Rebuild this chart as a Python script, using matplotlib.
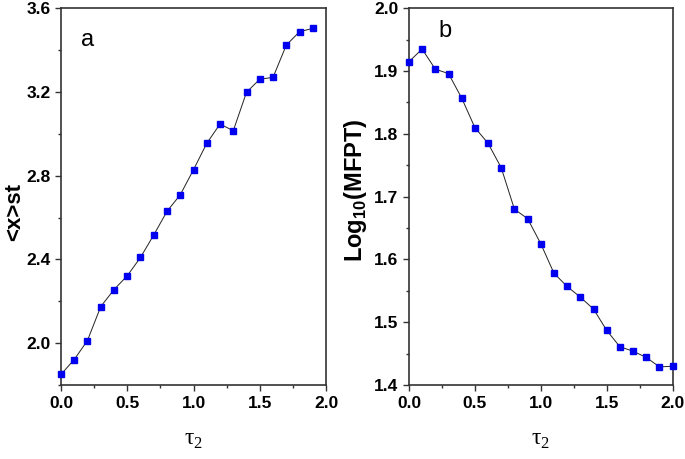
import numpy as np
import matplotlib
matplotlib.use("Agg")
import matplotlib.pyplot as plt
from matplotlib.ticker import MultipleLocator

plt.rcParams['font.family'] = ['Liberation Sans', 'DejaVu Sans']
plt.rcParams['mathtext.fontset'] = 'custom'
plt.rcParams['mathtext.rm'] = 'Liberation Serif'
plt.rcParams['mathtext.bf'] = 'Liberation Sans:bold'

# panel a: <x>st vs tau2
tau_a = [0.0, 0.1, 0.2, 0.3, 0.4, 0.5, 0.6, 0.7, 0.8, 0.9,
         1.0, 1.1, 1.2, 1.3, 1.4, 1.5, 1.6, 1.7, 1.8, 1.9]
x_st = [1.851, 1.922, 2.013, 2.175, 2.256, 2.322, 2.410, 2.517, 2.630, 2.709,
        2.829, 2.955, 3.047, 3.015, 3.199, 3.261, 3.270, 3.424, 3.488, 3.504]

# panel b: log10(MFPT) vs tau2
tau_b = [0.0, 0.1, 0.2, 0.3, 0.4, 0.5, 0.6, 0.7, 0.8, 0.9, 1.0,
         1.1, 1.2, 1.3, 1.4, 1.5, 1.6, 1.7, 1.8, 1.9, 2.0]
log_mfpt = [1.915, 1.935, 1.903, 1.896, 1.857, 1.810, 1.785, 1.746, 1.680, 1.665, 1.625,
            1.578, 1.557, 1.540, 1.521, 1.487, 1.461, 1.454, 1.444, 1.429, 1.430]

fig = plt.figure(figsize=(6.85, 4.59), dpi=100)
ax1 = fig.add_axes([0.089, 0.161, 0.387, 0.821])
ax2 = fig.add_axes([0.597, 0.161, 0.385, 0.821])

def style(ax):
    for s in ax.spines.values():
        s.set_linewidth(1.2)
        s.set_color("#333333")
    ax.xaxis.set_major_locator(MultipleLocator(0.5))
    ax.xaxis.set_minor_locator(MultipleLocator(0.25))
    ax.tick_params(which="both", direction="out", top=False, right=False, color="#333333")
    ax.tick_params(which="major", length=4, width=1.0, labelsize=12.5)
    ax.tick_params(which="minor", length=2.5, width=1.0)
    for lab in ax.get_xticklabels() + ax.get_yticklabels():
        lab.set_fontweight("bold")
    ax.set_xlim(0, 2.0)
    ax.set_xlabel(r"$\mathrm{τ}_2$", fontsize=17, labelpad=13)

ax1.plot(tau_a, x_st, color="#222222", linewidth=0.7, marker="s", markersize=5,
         markerfacecolor="#0000ee", markeredgecolor="#0000ee", clip_on=False, zorder=3)
ax1.set_ylim(1.8, 3.6)
ax1.yaxis.set_major_locator(MultipleLocator(0.4))
ax1.yaxis.set_minor_locator(MultipleLocator(0.2))
ax1.set_xticks([0.0, 0.5, 1.0, 1.5, 2.0])
ax1.set_yticks([2.0, 2.4, 2.8, 3.2, 3.6])
style(ax1)
ax1.set_ylabel("<x>st", fontsize=16, fontweight="bold")
ax1.yaxis.set_label_coords(-0.135, 0.46)
ax1.text(0.075, 0.915, "a", transform=ax1.transAxes, fontsize=17, va="center", ha="left")

ax2.plot(tau_b, log_mfpt, color="#222222", linewidth=0.7, marker="s", markersize=5,
         markerfacecolor="#0000ee", markeredgecolor="#0000ee", clip_on=False, zorder=3)
ax2.set_ylim(1.4, 2.0)
ax2.yaxis.set_major_locator(MultipleLocator(0.1))
ax2.yaxis.set_minor_locator(MultipleLocator(0.05))
ax2.set_xticks([0.0, 0.5, 1.0, 1.5, 2.0])
ax2.set_yticks([1.4, 1.5, 1.6, 1.7, 1.8, 1.9, 2.0])
style(ax2)
ax2.set_ylabel(r"Log$_{\mathbf{10}}$(MFPT)", fontsize=17, fontweight="bold")
ax2.yaxis.set_label_coords(-0.152, 0.517)
ax2.text(0.11, 0.94, "b", transform=ax2.transAxes, fontsize=17, va="center", ha="left")

fig.savefig("out.png", dpi=100)
